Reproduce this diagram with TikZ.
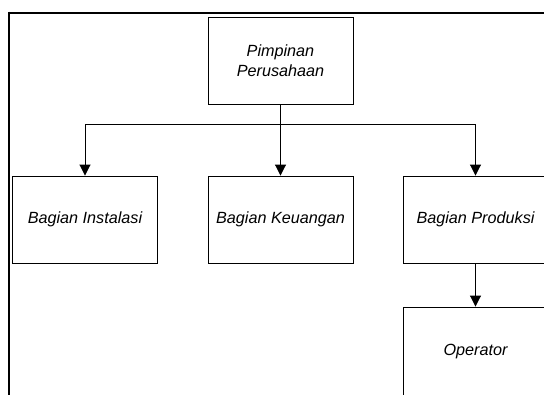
\documentclass[tikz,border=0pt]{standalone}
\usepackage{fontspec}
\setmainfont{Liberation Sans}
\usetikzlibrary{arrows.meta}
\begin{document}
\begin{tikzpicture}[x=1pt,y=-1pt,
  orgbox/.style={draw=black,line width=0.9pt,minimum width=145pt,minimum height=87pt,
    inner sep=0pt,align=center,font=\fontsize{16.2}{20.5}\selectfont\itshape},
  conn/.style={draw=black,line width=0.9pt},
  arr/.style={conn,-{Triangle[width=11pt,length=11pt]}},
  frameline/.style={draw=black,line width=2pt}]
\clip (0,0) rectangle (544,394);
\fill[white] (0,0) rectangle (544,394);
\draw[frameline] (8,12.5) -- (545,12.5);
\draw[frameline] (9,11.5) -- (9,395);
\node[orgbox] (top) at (280.5,60.5) {Pimpinan\\Perusahaan};
\node[orgbox] (b1) at (85,219.5) {Bagian Instalasi};
\node[orgbox] (b2) at (280.5,219.5) {Bagian Keuangan};
\node[orgbox] (b3) at (475.5,219.5) {Bagian Produksi};
\node[orgbox,minimum height=90pt] (op) at (475.5,352) {Operator};
\coordinate (j) at (280.5,124.5);
\draw[conn] (top.south) -- (j);
\draw[arr] (j) -| (b1.north);
\draw[arr] (j) -| (b3.north);
\draw[arr] (j) -- (b2.north);
\draw[arr] (b3.south) -- (op.north);
\end{tikzpicture}
\end{document}
